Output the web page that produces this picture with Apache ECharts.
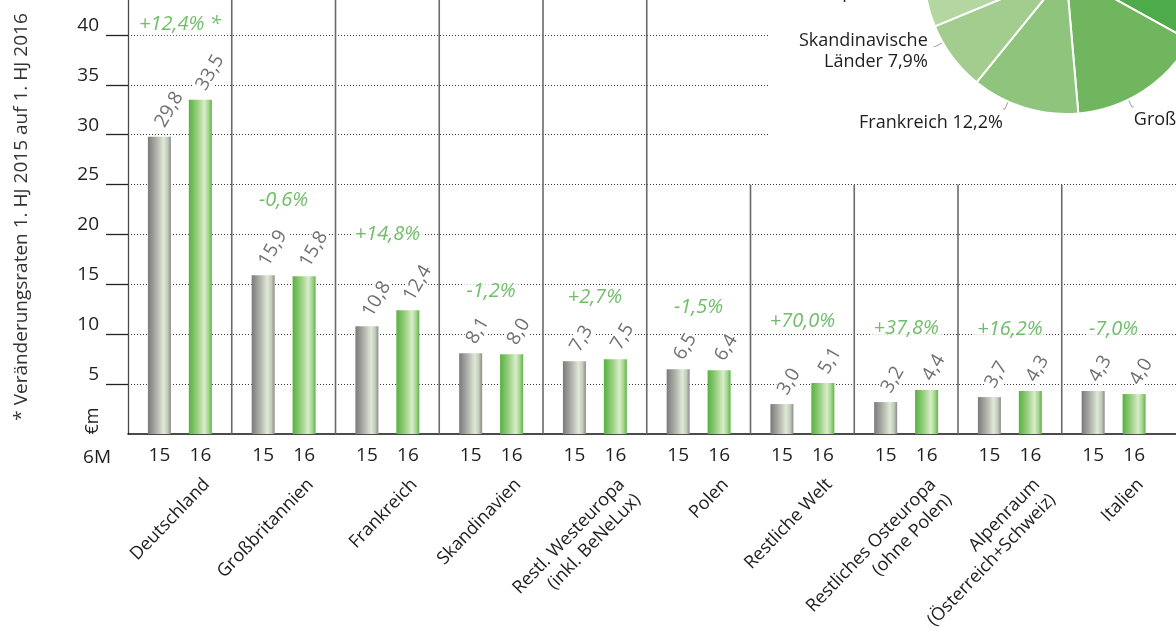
<!DOCTYPE html>
<html>
<head>
<meta charset="utf-8">
<script src="https://cdn.jsdelivr.net/npm/echarts@6/dist/echarts.min.js"></script>
<style>
  html, body { margin: 0; padding: 0; background: #fff; }
  #chart { width: 1176px; height: 641px; }
</style>
</head>
<body>
<div id="chart"></div>
<script>
// Umsatz 1. Halbjahr nach Regionen (Mio. €), 2015 vs. 2016
const regions = [
  'Deutschland', 'Großbritannien', 'Frankreich', 'Skandinavien',
  'Restl. Westeuropa\n(inkl. BeNeLux)', 'Polen', 'Restliche Welt',
  'Restliches Osteuropa\n(ohne Polen)', 'Alpenraum\n(Österreich+Schweiz)', 'Italien'
];
const pieNames = [
  'Deutschland', 'Großbritannien', 'Frankreich', 'Skandinavische\nLänder',
  'Restl. West-\neuropa', 'Polen', 'Restliche Welt', 'Restliches\nOsteuropa',
  'Alpenraum', 'Italien'
];
const h1_2015 = [29.8, 15.9, 10.8, 8.1, 7.3, 6.5, 3.0, 3.2, 3.7, 4.3];
const h1_2016 = [33.5, 15.8, 12.4, 8.0, 7.5, 6.4, 5.1, 4.4, 4.3, 4.0];
const changeRates = ['+12,4% *', '-0,6%', '+14,8%', '-1,2%', '+2,7%', '-1,5%', '+70,0%', '+37,8%', '+16,2%', '-7,0%'];
const yearLabels = ['15', '16'];
const yTicks = [5, 10, 15, 20, 25, 30, 35, 40];
const yTitle = '* Veränderungsraten 1. HJ 2015 auf 1. HJ 2016';

const FONT = "'Open Sans', 'Noto Sans', sans-serif";
const GREEN_TEXT = '#4cad43';
const fmt = v => v.toFixed(1).replace('.', ',');

// separators right of the pie inset start lower
const insetFrom = 6;      // first boundary below the pie inset
const insetFloor = 25;    // axis value where those separators begin

// rate label sits above the rotated value label of the taller bar
const rise = i => 19 + 14 * Math.max(fmt(h1_2015[i]).length, fmt(h1_2016[i]).length);

const grad = stops => new echarts.graphic.LinearGradient(0, 0, 1, 0,
  stops.map(([offset, color]) => ({ offset, color })));
const greyFill = grad([[0, '#7a7a7a'], [0.4, '#b3b7ae'], [0.68, '#dfe9d6'], [0.86, '#c2cbba'], [1, '#8a8a8a']]);
const greenFill = grad([[0, '#56b13e'], [0.4, '#9fd287'], [0.68, '#d9edcb'], [0.86, '#a3d48c'], [1, '#5cb544']]);

const valueLabel = {
  show: true, position: 'top', distance: 10, rotate: 60,
  align: 'left', verticalAlign: 'middle',
  formatter: p => fmt(p.value), fontSize: 19, color: '#707070',
  fontFamily: FONT, backgroundColor: '#fff', padding: [0, 1]
};

// pie inset geometry and leader placement
const pieCenter = [1066, -28];
const pieRadius = 142;
const leaderTurn = 7;     // degrees the leaders sit clockwise of the slice middle
const pieTotal = h1_2016.reduce((s, v) => s + v, 0);
function pieLabelLayout(params) {
  const i = params.dataIndex;
  const before = h1_2016.slice(0, i).reduce((s, v) => s + v, 0);
  const deg = -90 + (before + h1_2016[i] / 2) / pieTotal * 360 + leaderTurn;
  const a = deg * Math.PI / 180;
  const cos = Math.cos(a), sin = Math.sin(a);
  const side = cos < 0 ? -1 : 1;
  const p1 = [pieCenter[0] + pieRadius * cos, pieCenter[1] + pieRadius * sin];
  const p2 = [p1[0] + 8 * cos, p1[1] + 8 * sin];
  const p3 = [p2[0] + 2 * side, p2[1]];
  const below = sin > 0.8;
  return {
    x: below ? p3[0] : p3[0] + 6 * side,
    y: below ? p3[1] + 3 : p3[1] + 5,
    align: side < 0 ? 'right' : 'left',
    verticalAlign: below ? 'top' : 'middle',
    labelLinePoints: [p1, p2, p3]
  };
}

const chart = echarts.init(document.getElementById('chart'), null, { renderer: 'canvas' });

const plot = { left: 128, width: 1037.5, top: -15, bottom: 207, outerBoundsMode: 'none', containLabel: false };

chart.setOption({
  animation: false,
  textStyle: { fontFamily: FONT },
  grid: [
    { ...plot },
    { left: 128, right: 0, top: -15, bottom: 207, outerBoundsMode: 'none', containLabel: false },
    { ...plot, left: 128 + 19 }
  ],
  xAxis: [
    {
      gridIndex: 0, type: 'category', data: regions,
      axisLine: { show: false }, axisTick: { show: false }, splitLine: { show: false },
      axisLabel: {
        interval: 0, margin: 12,
        formatter: () => `{a|${yearLabels[0]}}{b|${yearLabels[1]}}`,
        rich: {
          a: { width: 41, align: 'center', fontSize: 19, color: '#1e1e1e', fontFamily: FONT },
          b: { width: 41, align: 'center', fontSize: 19, color: '#1e1e1e', fontFamily: FONT }
        }
      }
    },
    {
      gridIndex: 1, type: 'value', min: 0, max: 1,
      axisLine: { show: true, onZero: false, lineStyle: { color: '#111', width: 1.5 } },
      axisTick: { show: false }, axisLabel: { show: false }, splitLine: { show: false }
    },
    {
      gridIndex: 2, type: 'category', data: regions,
      axisLine: { show: false }, axisTick: { show: false }, splitLine: { show: false },
      axisLabel: {
        interval: 0, rotate: 46, margin: 40, align: 'right', verticalAlign: 'top',
        fontSize: 18, lineHeight: 22, color: '#1e1e1e', fontFamily: FONT
      }
    }
  ],
  yAxis: [
    { gridIndex: 0, type: 'value', min: 0, max: 45, interval: 5, show: false },
    {
      gridIndex: 1, type: 'value', min: 0, max: 45, interval: 5,
      axisLine: { show: true, lineStyle: { color: '#4a4a4a', width: 1.3 } },
      axisTick: { show: true, inside: false, length: 22, customValues: yTicks, lineStyle: { color: '#222', width: 1.3 } },
      axisLabel: {
        customValues: yTicks, margin: 29, verticalAlign: 'bottom',
        fontSize: 19, color: '#1e1e1e', fontFamily: FONT,
        formatter: v => (v === 0 ? '' : String(v))
      },
      splitLine: { show: true, lineStyle: { type: [1, 2], color: '#3a3a3a', width: 1 } }
    },
    { gridIndex: 2, type: 'value', min: 0, max: 45, show: false }
  ],
  graphic: [
    { type: 'rect', z: 1, shape: { x: 770, y: 0, width: 406, height: 160 }, style: { fill: '#fff' } },
    {
      type: 'text', x: 22, y: 217, rotation: Math.PI / 2,
      style: { text: yTitle, fontSize: 19, fill: '#333', align: 'center', verticalAlign: 'middle', fontFamily: FONT }
    },
    {
      type: 'text', x: 93, y: 421, rotation: Math.PI / 2,
      style: { text: '€m', fontSize: 18, fill: '#222', align: 'center', verticalAlign: 'middle', fontFamily: FONT }
    },
    {
      type: 'text', x: 97, y: 458,
      style: { text: '6M', fontSize: 19, fill: '#1e1e1e', align: 'center', verticalAlign: 'middle', fontFamily: FONT }
    }
  ],
  series: [
    {
      name: '1. HJ 2015', type: 'bar', xAxisIndex: 0, yAxisIndex: 0,
      data: h1_2015, barWidth: 23, barGap: '78%',
      itemStyle: { color: greyFill }, label: valueLabel, z: 3
    },
    {
      name: '1. HJ 2016', type: 'bar', xAxisIndex: 0, yAxisIndex: 0,
      data: h1_2016, barWidth: 23, barGap: '78%',
      itemStyle: { color: greenFill }, label: valueLabel, z: 3
    },
    {
      // group separators
      type: 'custom', xAxisIndex: 0, yAxisIndex: 0, silent: true, z: 2,
      data: regions.slice(1).map((_, k) => [k + 1, 0]),
      renderItem: (params, api) => {
        const i = api.value(0);
        const base = api.coord([i, 0]);
        const x = base[0] - api.size([1, 0])[0] / 2;
        const top = i >= insetFrom ? api.coord([i, insetFloor])[1] : params.coordSys.y;
        return {
          type: 'line',
          shape: { x1: x, y1: top, x2: x, y2: base[1] },
          style: { stroke: '#6a6a6a', lineWidth: 1.6 }
        };
      }
    },
    {
      // rates of change
      type: 'scatter', xAxisIndex: 0, yAxisIndex: 0, silent: true, z: 4,
      symbolSize: 1, itemStyle: { color: 'rgba(0,0,0,0)' },
      data: regions.map((_, i) => ({
        value: [i, Math.max(h1_2015[i], h1_2016[i])],
        label: { distance: rise(i) }
      })),
      label: {
        show: true, position: 'top', verticalAlign: 'middle',
        formatter: p => changeRates[p.dataIndex],
        color: GREEN_TEXT, fontStyle: 'italic', fontSize: 20, fontFamily: FONT,
        backgroundColor: '#fff', padding: [1, 3]
      }
    },
    {
      // share of 2016 revenue
      type: 'pie', z: 5, center: pieCenter, radius: pieRadius,
      startAngle: 90, clockwise: true, percentPrecision: 1,
      avoidLabelOverlap: false,
      data: pieNames.map((name, i) => ({ name, value: h1_2016[i] })),
      color: ['#4eab4a', '#6fb65e', '#8ec47b', '#a2cd8e', '#b4d7a1', '#c3dfb3', '#cfe5c2', '#d9ebcf', '#e2f0da', '#ebf5e5'],
      itemStyle: { borderColor: '#fff', borderWidth: 2 },
      label: {
        show: true, position: 'outside', fontSize: 18, lineHeight: 21, color: '#1e1e1e', fontFamily: FONT,
        formatter: p => `${p.name} ${String(p.percent.toFixed(1)).replace('.', ',')}%`
      },
      labelLine: { show: true, lineStyle: { color: '#9a9a9a', width: 1 } },
      labelLayout: pieLabelLayout
    }
  ]
});
</script>
</body>
</html>
